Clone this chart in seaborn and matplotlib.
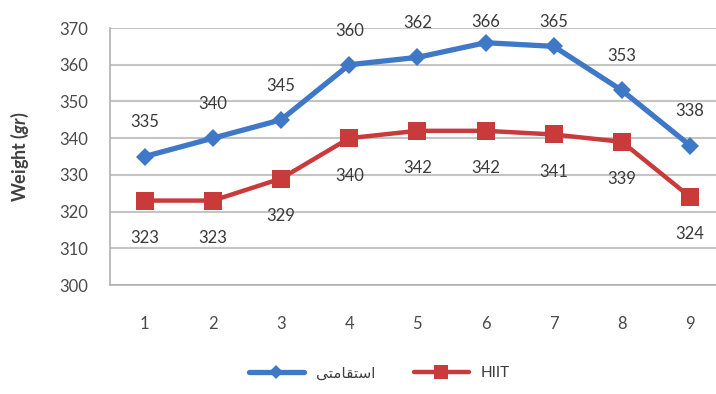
import matplotlib
matplotlib.use("Agg")
import matplotlib.pyplot as plt
import pandas as pd
import seaborn as sns

sns.set_theme(style="whitegrid")
plt.rcParams['font.family'] = ['Lato', 'DejaVu Sans']
plt.rcParams['mathtext.fontset'] = 'custom'
plt.rcParams['mathtext.it'] = 'Lato:bold:italic'

sessions = [1, 2, 3, 4, 5, 6, 7, 8, 9]
endurance = [335, 340, 345, 360, 362, 366, 365, 353, 338]
hiit = [323, 323, 329, 340, 342, 342, 341, 339, 324]
yticks = [300, 310, 320, 330, 340, 350, 360, 370]
# "استقامتی" written with shaped (presentation) forms in visual order
endurance_label = "\uFEF0\uFE98\uFEE3\uFE8E\uFED8\uFE98\uFEB3\uFE8D"
hiit_label = "HIIT"

df = pd.DataFrame({"session": sessions, "endurance": endurance, "hiit": hiit})

blue = "#3f78c6"
red = "#c93a3a"
txt = "#3a3a3a"

fig = plt.figure(figsize=(7.16, 3.94), dpi=100)
ax = fig.add_axes([0.1536, 0.2766, 0.8464, 0.6523])

sns.lineplot(data=df, x="session", y="endurance", ax=ax, color=blue,
             marker="D", markersize=9, linewidth=3.8, markeredgewidth=0,
             label=endurance_label)
sns.lineplot(data=df, x="session", y="hiit", ax=ax, color=red,
             marker="s", markersize=13, linewidth=3.2, markeredgewidth=0,
             label=hiit_label)

# labels above the blue line, kept inside the top of the plot area like Excel does
for x, y in zip(sessions, endurance):
    ax.annotate(str(y), (x, y), xytext=(x, min(y + 9.3, 371.7)), textcoords="data",
                ha="center", va="center", fontsize=12, color=txt, annotation_clip=False)
for x, y in zip(sessions, hiit):
    ax.annotate(str(y), (x, y), xytext=(0, -27), textcoords="offset points",
                ha="center", va="center", fontsize=12, color=txt)

ax.set_xlim(0.49, 9.38)
ax.set_ylim(300, 370)
ax.set_xticks(sessions)
ax.set_yticks(yticks)
ax.tick_params(axis="y", length=0, pad=16, labelsize=12, labelcolor="#4a4a4a")
ax.tick_params(axis="x", length=0, pad=22, labelsize=12, labelcolor="#4a4a4a")
ax.grid(axis="x", visible=False)
ax.grid(axis="y", color="#c4c4c4", linewidth=1.5)
ax.set_xlabel("")
ax.set_ylabel(r"Weight ($\it{gr}$)", fontsize=13, fontweight="bold", color="#404040")
ax.yaxis.set_label_coords(-0.13, 0.5)

for side in ["top", "right"]:
    ax.spines[side].set_visible(False)
for side in ["left", "bottom"]:
    ax.spines[side].set_color("#b0b0b0")
    ax.spines[side].set_linewidth(1.2)

ax.get_legend().remove()
handles, labels = ax.get_legend_handles_labels()
fig.legend(handles, labels, loc="lower center", bbox_to_anchor=(0.53, 0.0),
           ncol=2, frameon=False, fontsize=11, handlelength=3.6,
           markerscale=0.75, columnspacing=2.5, labelcolor="#404040")

fig.savefig("out.png", dpi=100)
